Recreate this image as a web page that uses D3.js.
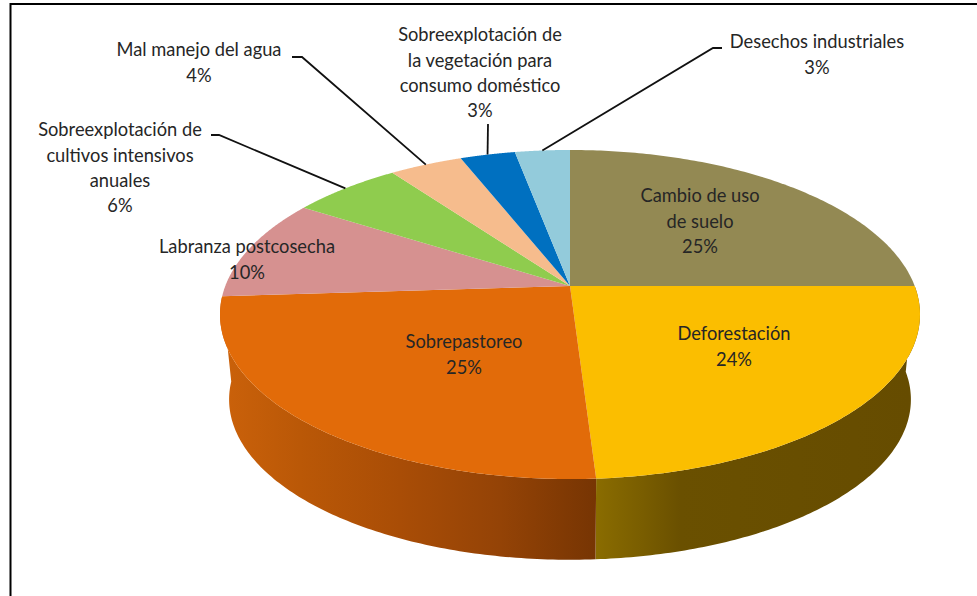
<!DOCTYPE html>
<html><head><meta charset="utf-8">
<script src="https://cdn.jsdelivr.net/npm/d3@7"></script>
<style>html,body{margin:0;padding:0;background:#fff;overflow:hidden}svg{display:block}text{font-family:Lato,"Noto Sans",sans-serif;font-size:18.3px;fill:#262626}</style>
</head><body><svg id="c" width="977" height="596"></svg>
<script>
// Data
const categories = ["Cambio de uso de suelo","Deforestación","Sobrepastoreo","Labranza postcosecha","Sobreexplotación de cultivos intensivos anuales","Mal manejo del agua","Sobreexplotación de la vegetación para consumo doméstico","Desechos industriales"];
const values = [25,24,25,10,6,4,3,3];
const labelLines = [["Cambio de uso","de suelo","25%"],["Deforestación","24%"],["Sobrepastoreo","25%"],["Labranza postcosecha","10%"],["Sobreexplotación de","cultivos intensivos","anuales","6%"],["Mal manejo del agua","4%"],["Sobreexplotación de","la vegetación para","consumo doméstico","3%"],["Desechos industriales","3%"]];
const colors = ["#938953","#FBBE00","#E26B09","#D69190","#8FCC4E","#F6BC8D","#0070C0","#93CBDB"];

// Layout
const W=977,H=596, cx=570, cy=286;
const persp=0.1733, bY=159.6, cX=344.7;      // perspective of the pie's top face
const wallScale=0.974, ellipseCy=314, wallCy=399; // lower rim
const labelPos=[[700,196],[734,334],[464,342],[247,247],[120,130],[199,50],[480,35],[817,42]];
const lineStep=25.3;
// leader: [text-side end x, y, elbow x]
const leaders={4:[211,135,219],5:[292,57,302],6:[488,124,488],7:[722,48,713]};

const svg=d3.select("#c");
const defs=svg.append("defs");
function grad(id,stops){
  const g=defs.append("linearGradient").attr("id",id).attr("gradientUnits","userSpaceOnUse")
    .attr("x1",stops[0][0]).attr("x2",stops[stops.length-1][0]).attr("y1",0).attr("y2",0);
  const x0=stops[0][0],x1=stops[stops.length-1][0];
  stops.forEach(s=>g.append("stop").attr("offset",(s[0]-x0)/(x1-x0)).attr("stop-color",s[1]));
}
grad("wall1",[[596,"#8A6C00"],[640,"#7A5E00"],[680,"#6A5000"],[912,"#664C00"]]);
grad("wall2",[[226,"#CA610A"],[300,"#BA5807"],[400,"#A94D06"],[500,"#944306"],[595,"#773503"]]);

const project=t=>{const u=Math.sin(t),v=-Math.cos(t),w=1-persp*v;return [cx+cX*u/w,cy+bY*v/w];};
const lower=p=>[cx+wallScale*(p[0]-cx),wallCy+wallScale*(p[1]-ellipseCy)];
const arcPts=(a,b)=>d3.range(0,121).map(i=>project(a+(b-a)*i/120));
const line=d3.line();

const pie=d3.pie().sort(null).value(d=>d)(values);

// side walls, front slices only
[[1,"url(#wall1)"],[2,"url(#wall2)"]].forEach(([i,fill])=>{
  const top=arcPts(pie[i].startAngle,pie[i].endAngle);
  svg.append("path").attr("d",line(top.concat(top.map(lower).reverse()))+"Z").attr("fill",fill);
});
// top face
pie.forEach((s,i)=>{
  svg.append("path").attr("d",line([[cx,cy]].concat(arcPts(s.startAngle,s.endAngle)))+"Z").attr("fill",colors[i]);
});
// leader lines
Object.keys(leaders).forEach(k=>{
  const l=leaders[k],s=pie[k],m=project((s.startAngle+s.endAngle)/2);
  svg.append("path").attr("d",line([[l[0],l[1]],[l[2],l[1]],m])).attr("fill","none").attr("stroke","#111").attr("stroke-width",1.8);
});
// labels
labelLines.forEach((ls,i)=>{
  const t=svg.append("text").attr("text-anchor","middle");
  ls.forEach((s,j)=>t.append("tspan").attr("x",labelPos[i][0]).attr("y",labelPos[i][1]+j*lineStep).attr("dy","0.35em").text(s));
});
// frame
svg.append("path").attr("d",line([[10.5,H],[10.5,4],[W,4]])).attr("fill","none").attr("stroke","#000").attr("stroke-width",2);
</script></body></html>
